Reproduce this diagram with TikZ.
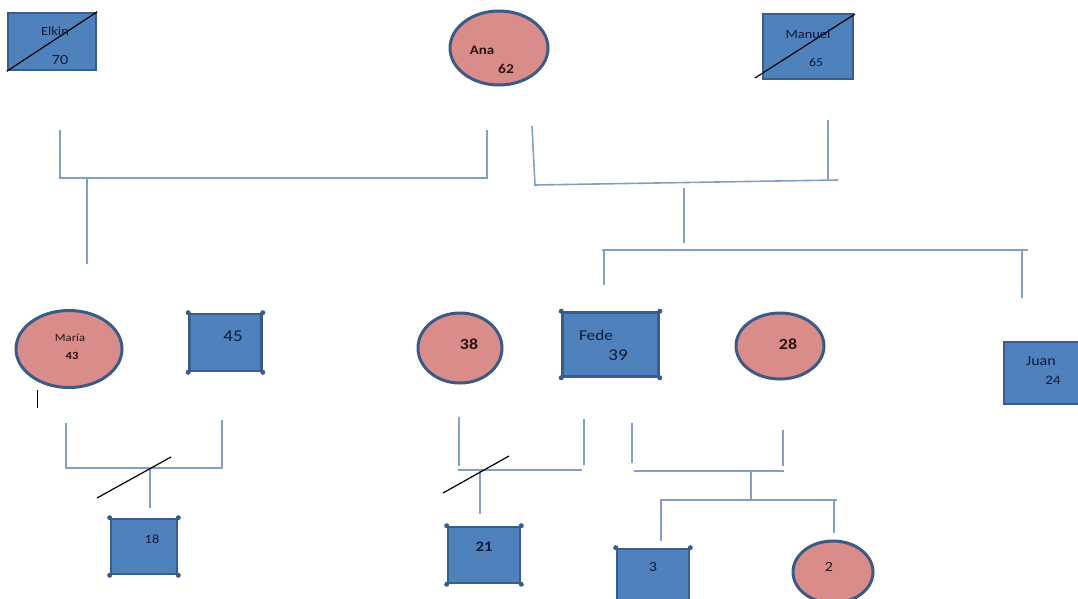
\documentclass[tikz,border=0pt]{standalone}
\usepackage{fontspec}
\setmainfont[FakeStretch=1.15]{Carlito}
\usetikzlibrary{shapes.geometric}
\definecolor{sqfill}{RGB}{79,129,189}
\definecolor{sqborder}{RGB}{56,93,138}
\definecolor{elfill}{RGB}{217,140,138}
\definecolor{elborder}{RGB}{60,90,134}
\definecolor{conn}{RGB}{130,160,198}
\definecolor{txtb}{RGB}{15,25,60}
\definecolor{txtp}{RGB}{45,20,20}
\tikzset{
  sq/.style={draw=sqborder, fill=sqfill, line width=2.6pt, rectangle, inner sep=0pt},
  el/.style={draw=elborder, fill=elfill, line width=3pt, ellipse, inner sep=0pt},
  cn/.style={draw=conn, line width=1.6pt},
  slash/.style={draw=black, line width=1.2pt},
  lbl/.style={text=txtb, inner sep=0pt},
  lblp/.style={text=txtp, inner sep=0pt},
  dot/.style={fill=sqborder, circle, inner sep=0pt, minimum size=5pt}
}
\newcommand{\corners}[1]{%
  \foreach \c in {north west,north east,south west,south east}{\node[dot] at (#1.\c) {};}}
\newcommand{\fs}[1]{\fontsize{#1}{#1}\selectfont}
\begin{document}
\begin{tikzpicture}[x=1pt,y=-1pt]
\clip (0,0) rectangle (1078,598);
\fill[white] (0,0) rectangle (1078,598);
% ---- generation 1 ----
\node[sq, minimum width=88pt, minimum height=57pt] (elkin) at (52,41.5) {};
\draw[slash] (elkin.south west) -- (elkin.north east);
\node[lbl, font=\fs{12.5}] (elkinT) at (55,31) {Elkin};
\node[lbl, font=\fs{14}] (elkinA) at (60,60) {70};
\node[el, minimum width=98pt, minimum height=74pt] (ana) at (499,48) {};
\node[lblp, font=\fs{13}\bfseries] (anaT) at (482,50) {Ana};
\node[lblp, font=\fs{13.5}\bfseries] (anaA) at (506,69) {62};
\node[sq, minimum width=90pt, minimum height=65pt] (manuel) at (808,46.5) {};
\coordinate (manA) at (755,78);
\coordinate (manB) at (855,14);
\draw[slash] (manA) -- (manB);
\node[lbl, font=\fs{12.5}] (manT) at (808,34) {Manuel};
\node[lbl, font=\fs{12}] (manAge) at (816,62) {65};
% ---- connectors gen 1 ----
\coordinate (a1) at (60,130); \coordinate (a2) at (60,178);
\coordinate (a3) at (487,178); \coordinate (a4) at (487,130);
\draw[cn] (a1) -- (a2) -- (a3) -- (a4);
\coordinate (a5) at (87,178); \coordinate (a6) at (87,264);
\draw[cn] (a5) -- (a6);
\coordinate (b1) at (532,126); \coordinate (b2) at (535,185);
\coordinate (b3) at (838,180);
\draw[cn] (b1) -- (b2) -- (b3);
\coordinate (b4) at (828,120); \coordinate (b5) at (828,181);
\draw[cn] (b4) -- (b5);
\coordinate (b6) at (684,188); \coordinate (b7) at (684,243);
\draw[cn] (b6) -- (b7);
\coordinate (c1) at (602,250); \coordinate (c2) at (1028,250);
\draw[cn] (c1) -- (c2);
\coordinate (c3) at (604,250); \coordinate (c4) at (604,285);
\draw[cn] (c3) -- (c4);
\coordinate (c5) at (1022,250); \coordinate (c6) at (1022,298);
\draw[cn] (c5) -- (c6);
% ---- generation 2 ----
\node[el, minimum width=106pt, minimum height=77pt] (maria) at (69,349) {};
\node[lblp, font=\fs{11}] (mariaT) at (70,338) {María};
\node[lblp, font=\fs{11}\bfseries] (mariaA) at (72,356) {43};
\coordinate (cur1) at (37,390); \coordinate (cur2) at (37,408);
\draw[black, line width=1pt] (cur1) -- (cur2);
\node[sq, minimum width=72pt, minimum height=57pt] (p45) at (225.5,342.5) {};
\corners{p45}
\node[lbl, font=\fs{16.5}] (p45T) at (233,336) {45};
\node[el, minimum width=84pt, minimum height=70pt] (p38) at (460,348) {};
\node[lblp, font=\fs{15.5}\bfseries] (p38T) at (469,344) {38};
\node[sq, minimum width=96pt, minimum height=64pt] (fede) at (610.5,344.5) {};
\corners{fede}
\node[lbl, font=\fs{15}] (fedeT) at (596,335) {Fede};
\node[lbl, font=\fs{16.5}] (fedeA) at (618,355) {39};
\node[el, minimum width=88pt, minimum height=66pt] (p28) at (780,346) {};
\node[lblp, font=\fs{15.5}\bfseries] (p28T) at (788,344) {28};
\node[sq, minimum width=80pt, minimum height=62pt] (juan) at (1044,373) {};
\node[lbl, font=\fs{14}] (juanT) at (1041,361) {Juan};
\node[lbl, font=\fs{13}] (juanA) at (1053,380) {24};
% ---- connectors gen 2 ----
\coordinate (d1) at (66,423); \coordinate (d2) at (66,468);
\coordinate (d3) at (222,468); \coordinate (d4) at (222,420);
\draw[cn] (d1) -- (d2) -- (d3) -- (d4);
\coordinate (d5) at (150,468); \coordinate (d6) at (150,508);
\draw[cn] (d5) -- (d6);
\coordinate (s1) at (97,498); \coordinate (s2) at (171,457);
\draw[slash] (s1) -- (s2);
\coordinate (e1) at (459,417); \coordinate (e2) at (459,466);
\draw[cn] (e1) -- (e2);
\coordinate (e3) at (458,470); \coordinate (e4) at (582,470);
\draw[cn] (e3) -- (e4);
\coordinate (e5) at (584,419); \coordinate (e6) at (584,465);
\draw[cn] (e5) -- (e6);
\coordinate (e7) at (480,470); \coordinate (e8) at (480,514);
\draw[cn] (e7) -- (e8);
\coordinate (s3) at (443,493); \coordinate (s4) at (509,456);
\draw[slash] (s3) -- (s4);
\coordinate (f1) at (632,423); \coordinate (f2) at (632,463);
\draw[cn] (f1) -- (f2);
\coordinate (f3) at (783,430); \coordinate (f4) at (783,466);
\draw[cn] (f3) -- (f4);
\coordinate (f5) at (634,471); \coordinate (f6) at (784,471);
\draw[cn] (f5) -- (f6);
\coordinate (f7) at (751,471); \coordinate (f8) at (751,500);
\draw[cn] (f7) -- (f8);
\coordinate (g1) at (660,500); \coordinate (g2) at (837,500);
\draw[cn] (g1) -- (g2);
\coordinate (g3) at (661,500); \coordinate (g4) at (661,541);
\draw[cn] (g3) -- (g4);
\coordinate (g5) at (834,500); \coordinate (g6) at (834,533);
\draw[cn] (g5) -- (g6);
% ---- generation 3 ----
\node[sq, minimum width=66pt, minimum height=55pt] (p18) at (144,546.5) {};
\corners{p18}
\node[lbl, font=\fs{12.5}] (p18T) at (152,539) {18};
\node[sq, minimum width=72pt, minimum height=56pt] (p21) at (484,555) {};
\corners{p21}
\node[lbl, font=\fs{14.5}\bfseries] (p21T) at (484,547) {21};
\node[sq, minimum width=72pt, minimum height=60pt] (p3) at (653,579) {};
\corners{p3}
\node[lbl, font=\fs{14}] (p3T) at (653,567) {3};
\node[el, minimum width=80pt, minimum height=62pt] (p2) at (833,572) {};
\node[lblp, font=\fs{14}] (p2T) at (829,567) {2};
\end{tikzpicture}
\end{document}
